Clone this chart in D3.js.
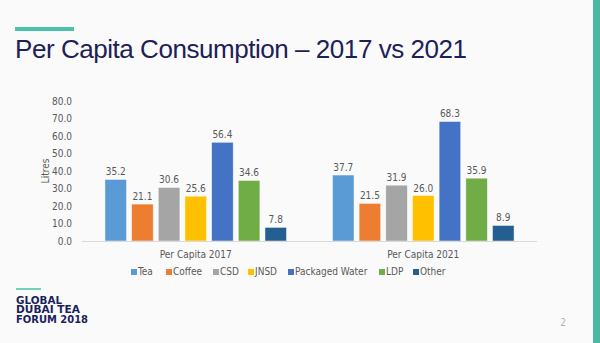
<!DOCTYPE html>
<html>
<head>
<meta charset="utf-8">
<script src="https://cdnjs.cloudflare.com/ajax/libs/d3/7.8.5/d3.min.js"></script>
<style>
  html, body { margin: 0; padding: 0; background: #fafafa; }
  svg { display: block; }
  .tick text, .val, .cat, .legend text, .ylab { font-family: "DejaVu Sans Condensed", "DejaVu Sans", sans-serif; font-stretch: condensed; }
</style>
</head>
<body>
<div id="chart"></div>
<script>
//chart data
const groups = ["Per Capita 2017", "Per Capita 2021"];
const series = ["Tea", "Coffee", "CSD", "JNSD", "Packaged Water", "LDP", "Other"];
const values2017 = [35.2, 21.1, 30.6, 25.6, 56.4, 34.6, 7.8];
const values2021 = [37.7, 21.5, 31.9, 26.0, 68.3, 35.9, 8.9];
const yTicks = [0, 10, 20, 30, 40, 50, 60, 70, 80];

const colors = d3.scaleOrdinal(series,
  ["#5b9bd5", "#ed7d31", "#a5a5a5", "#ffc000", "#4472c4", "#70ad47", "#255e91"]);

const width = 600, height = 343;
const margin = {left: 82, right: 63, top: 101, bottom: 102};

let svg = d3.select("#chart").append("svg")
    .attr("width", width)
    .attr("height", height);

//slide decoration
svg.append("rect").attr("x", 0).attr("y", 0).attr("width", width).attr("height", height).attr("fill", "#fafafa");
svg.append("rect").attr("x", 593).attr("y", 0).attr("width", 7).attr("height", height).attr("fill", "#4bb8a3");
svg.append("rect").attr("x", 15).attr("y", 27).attr("width", 59).attr("height", 4).attr("fill", "#4fc0a8");

svg.append("text")
    .attr("x", 15).attr("y", 57.5)
    .attr("fill", "#1c2157")
    .style("font-family", "'Liberation Sans', Arial, sans-serif")
    .style("font-size", "26px")
    .attr("textLength", 452)
    .text("Per Capita Consumption \u2013 2017 vs 2021");

//footer logo
svg.append("rect").attr("x", 16).attr("y", 288).attr("width", 25).attr("height", 2).attr("fill", "#6fd0bb");
let logo = svg.append("text")
    .attr("fill", "#1b1f5c")
    .style("font-family", "'DejaVu Sans', sans-serif")
    .style("font-weight", "bold")
    .style("font-size", "10px");
[["GLOBAL", 303.5, 46], ["DUBAI TEA", 313.3, 64], ["FORUM 2018", 323.3, 72]].forEach(function(l) {
  logo.append("tspan").attr("x", 16).attr("y", l[1])
    .attr("textLength", l[2]).attr("lengthAdjust", "spacingAndGlyphs").text(l[0]);
});

svg.append("text")
    .attr("x", 563).attr("y", 325.5)
    .attr("text-anchor", "middle")
    .attr("fill", "#b0b0b0")
    .style("font-family", "'DejaVu Sans Condensed', sans-serif")
    .style("font-size", "10px")
    .text("2");

//chart
let g = svg.append("g");

let x0 = d3.scaleBand()
    .domain(groups)
    .range([margin.left, width - margin.right]);

let x1 = d3.scaleBand()
    .domain(series)
    .range([0, x0.bandwidth()])
    .paddingInner(0.19)
    .paddingOuter(0.86);

let y = d3.scaleLinear()
    .domain([0, 80])
    .range([height - margin.bottom, margin.top]);

let yAxis = g.append("g")
    .attr("transform", "translate(" + margin.left + ",0)")
    .call(d3.axisLeft(y).tickValues(yTicks).tickFormat(d3.format(".1f")).tickSize(0).tickPadding(10));
yAxis.select(".domain").remove();
yAxis.selectAll("text").attr("fill", "#595959").style("font-size", "10px");

g.append("text")
    .attr("class", "ylab")
    .attr("transform", "translate(49," + 171 + ") rotate(-90)")
    .attr("text-anchor", "middle")
    .attr("fill", "#595959")
    .style("font-size", "10px")
    .text("Litres");

let data = groups.map(function(grp, i) {
  let vals = i === 0 ? values2017 : values2021;
  return {group: grp, items: series.map(function(s, j) { return {key: s, value: vals[j]}; })};
});

let grp = g.selectAll(".grp")
    .data(data)
  .enter()
    .append("g")
    .attr("class", "grp")
    .attr("transform", function(d) { return "translate(" + x0(d.group) + ",0)"; });

grp.selectAll("rect")
    .data(function(d) { return d.items; })
  .enter()
    .append("rect")
    .attr("x", function(d) { return x1(d.key); })
    .attr("y", function(d) { return y(d.value); })
    .attr("width", x1.bandwidth())
    .attr("height", function(d) { return y(0) - y(d.value); })
    .attr("fill", function(d) { return colors(d.key); })
    .attr("stroke", "#ffffff")
    .attr("stroke-opacity", 0.6)
    .attr("stroke-width", 0.8);

grp.selectAll(".val")
    .data(function(d) { return d.items; })
  .enter()
    .append("text")
    .attr("class", "val")
    .attr("x", function(d) { return x1(d.key) + x1.bandwidth() / 2; })
    .attr("y", function(d) { return y(d.value) - 4; })
    .attr("text-anchor", "middle")
    .attr("fill", "#595959")
    .style("font-size", "10px")
    .text(function(d) { return d3.format(".1f")(d.value); });

//baseline
g.append("line")
    .attr("x1", margin.left).attr("x2", width - margin.right)
    .attr("y1", y(0) + 0.5).attr("y2", y(0) + 0.5)
    .attr("stroke", "#d9d9d9");

g.selectAll(".cat")
    .data(groups)
  .enter()
    .append("text")
    .attr("class", "cat")
    .attr("x", function(d) { return x0(d) + x0.bandwidth() / 2; })
    .attr("y", 258)
    .attr("text-anchor", "middle")
    .attr("fill", "#595959")
    .style("font-size", "10px")
    .text(function(d) { return d; });

//legend
const legendX = [131, 166, 213, 248, 288, 379, 413];
let legend = g.selectAll(".legend")
    .data(series)
  .enter()
    .append("g")
    .attr("class", "legend")
    .attr("transform", function(d, i) { return "translate(" + legendX[i] + ",269)"; });

legend.append("rect")
    .attr("width", 6)
    .attr("height", 6)
    .attr("fill", colors);

legend.append("text")
    .attr("x", 7)
    .attr("y", 6.3)
    .attr("fill", "#595959")
    .style("font-size", "10px")
    .text(function(d) { return d; });
</script>
</body>
</html>
